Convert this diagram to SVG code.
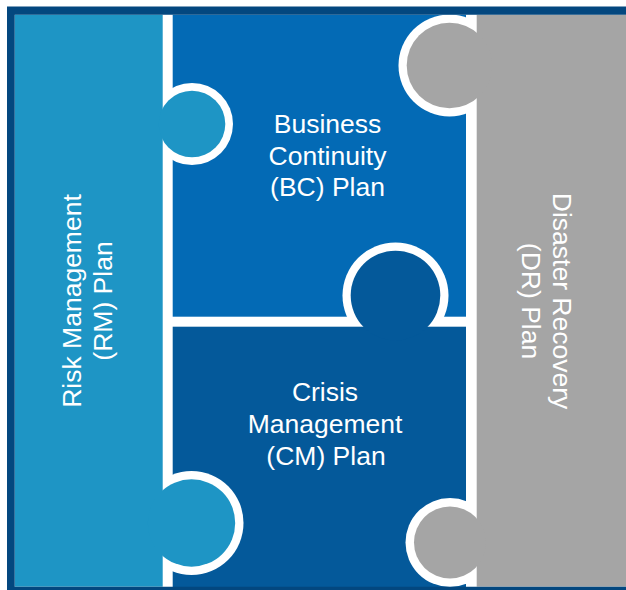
<svg xmlns="http://www.w3.org/2000/svg" width="626" height="590" viewBox="0 0 626 590">
  <style>
    .gap { fill: #ffffff; }
    .rm { fill: #1e95c5; }
    .bc { fill: #036ab5; }
    .cm { fill: #04599a; }
    .dr { fill: #a5a5a5; }
    .frame { fill: #03477f; fill-rule: evenodd; }
    .label { font-family: "Liberation Sans", Arial, sans-serif; font-size: 26.5px; fill: #ffffff; text-anchor: middle; }
  </style>

  <!-- white backdrop that shows through as the seams between pieces -->
  <rect x="14.7" y="14.7" width="620" height="572" fill="#ffffff"/>

  <!-- Business Continuity piece (top middle) -->
  <g id="bc">
    <rect class="bc" x="172.7" y="14.7" width="293.3" height="302"/>
    <text class="label" x="327.5" y="133">Business</text>
    <text class="label" x="327.5" y="165">Continuity</text>
    <text class="label" x="327.5" y="196">(BC) Plan</text>
  </g>

  <!-- Crisis Management piece (bottom middle), tab pokes up into BC -->
  <g id="cm">
    <circle class="gap" cx="395.5" cy="295.5" r="53"/>
    <rect class="cm" x="172.7" y="326.7" width="293.3" height="262"/>
    <circle class="cm" cx="395.5" cy="295.5" r="44.8"/>
    <text class="label" x="325" y="401">Crisis</text>
    <text class="label" x="325" y="433">Management</text>
    <text class="label" x="326" y="465">(CM) Plan</text>
  </g>

  <!-- Risk Management piece (left column), tabs into BC and CM -->
  <g id="rm">
    <circle class="gap" cx="192" cy="124" r="41"/>
    <circle class="gap" cx="191.5" cy="523" r="52"/>
    <rect class="rm" x="14.7" y="14.7" width="148" height="572"/>
    <circle class="rm" cx="192" cy="124" r="33.3"/>
    <circle class="rm" cx="191.5" cy="523" r="43.7"/>
    <g transform="translate(80.7 301) rotate(-90)">
      <text class="label" x="0" y="0">Risk Management</text>
      <text class="label" x="0" y="31">(RM) Plan</text>
    </g>
  </g>

  <!-- Disaster Recovery piece (right column), tabs into BC and CM -->
  <g id="dr">
    <circle class="gap" cx="449.5" cy="65.5" r="51"/>
    <circle class="gap" cx="450" cy="542.5" r="44.5"/>
    <rect class="dr" x="476.7" y="14.7" width="160" height="572"/>
    <circle class="dr" cx="449.5" cy="65.5" r="42.8"/>
    <circle class="dr" cx="450" cy="542.5" r="36"/>
    <g transform="translate(553 301) rotate(90)">
      <text class="label" x="0" y="0">Disaster Recovery</text>
      <text class="label" x="0" y="31">(DR) Plan</text>
    </g>
  </g>

  <!-- dark outer border -->
  <path class="frame" d="M7 6.5H640V600H7Z M14.7 14.7V586.7H640V14.7Z"/>
</svg>
